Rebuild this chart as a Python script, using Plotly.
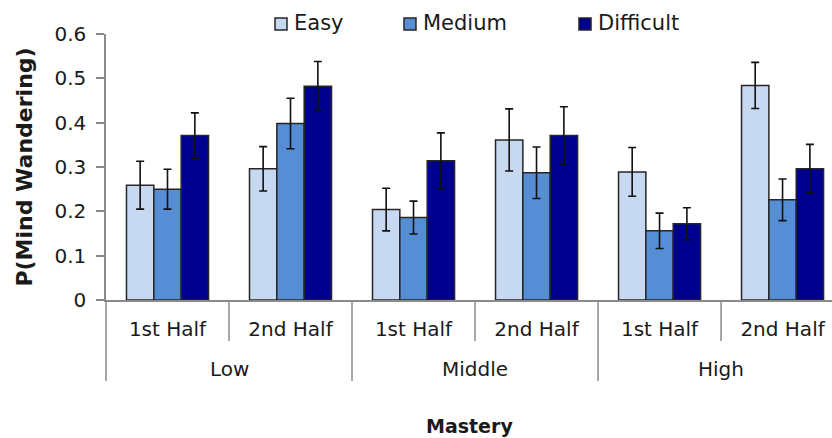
import plotly.graph_objects as go

# Mastery groups, each split into two halves
mastery = ["Low", "Middle", "High"]
half_labels = ["1st Half", "2nd Half", "1st Half", "2nd Half", "1st Half", "2nd Half"]

# Proportion of mind wandering by difficulty, one value per (mastery, half)
easy = [0.259, 0.296, 0.204, 0.361, 0.289, 0.484]
medium = [0.250, 0.398, 0.186, 0.287, 0.156, 0.226]
difficult = [0.371, 0.482, 0.314, 0.371, 0.172, 0.296]

# Standard errors
easy_err = [0.054, 0.050, 0.048, 0.070, 0.055, 0.052]
medium_err = [0.045, 0.057, 0.037, 0.058, 0.040, 0.047]
difficult_err = [0.051, 0.056, 0.063, 0.065, 0.036, 0.055]

y_ticks = [0, 0.1, 0.2, 0.3, 0.4, 0.5, 0.6]
y_tick_text = ["0", "0.1", "0.2", "0.3", "0.4", "0.5", "0.6"]

FONT = "DejaVu Sans"
TEXT = "#1a1a1a"
AXIS = "#8a8a8a"
EDGE = "#262626"

W, H = 832, 438
L, R, T, B = 106, 0, 34, 138
PW, PH = W - L - R, H - T - B


def pxx(px):
    """Pixel column -> paper x."""
    return (px - L) / PW


def pxy(py):
    """Pixel row -> paper y."""
    return (H - B - py) / PH


x = list(range(len(half_labels)))

series = [
    ("Easy", easy, easy_err, "#C6D9F1", 275),
    ("Medium", medium, medium_err, "#558ED5", 404),
    ("Difficult", difficult, difficult_err, "#000090", 579),
]

fig = go.Figure()
shapes = []
annotations = []

for name, vals, errs, color, lx in series:
    fig.add_trace(go.Bar(
        name=name,
        x=x,
        y=vals,
        marker=dict(color=color, line=dict(color=EDGE, width=1.5)),
        error_y=dict(type="data", array=errs, visible=True,
                     color="#111111", thickness=1.6, width=4),
        showlegend=False,
    ))
    # legend key: small outlined square followed by the series name
    shapes.append(dict(type="rect", xref="paper", yref="paper",
                       x0=pxx(lx), x1=pxx(lx + 12), y0=pxy(30), y1=pxy(18),
                       fillcolor=color, line=dict(color=EDGE, width=1.5)))
    annotations.append(dict(text=name, xref="paper", yref="paper",
                            x=pxx(lx + 17), y=pxy(23), xanchor="left", yanchor="middle",
                            showarrow=False,
                            font=dict(family=FONT, size=21, color=TEXT)))

# short dividers between halves inside each mastery group
for i in range(len(mastery)):
    shapes.append(dict(type="line", xref="x", yref="paper",
                       x0=2 * i + 0.5, x1=2 * i + 0.5, y0=0, y1=pxy(341),
                       line=dict(color=AXIS, width=1.5)))
# long dividers between mastery groups
for i in range(len(mastery)):
    xref = "paper" if i == 0 else "x"
    xv = 0 if i == 0 else 2 * i - 0.5
    shapes.append(dict(type="line", xref=xref, yref="paper",
                       x0=xv, x1=xv, y0=0, y1=pxy(381),
                       line=dict(color=AXIS, width=1.5)))

for i, m in enumerate(mastery):
    annotations.append(dict(text=m, x=2 * i + 0.5, xref="x", y=pxy(369), yref="paper",
                            showarrow=False, yanchor="middle",
                            font=dict(family=FONT, size=20, color=TEXT)))
annotations.append(dict(text="<b>Mastery</b>", x=0.5, xref="paper", y=pxy(426), yref="paper",
                        showarrow=False, yanchor="middle",
                        font=dict(family=FONT, size=19, color=TEXT)))

fig.update_layout(
    width=W, height=H,
    margin=dict(l=L, r=R, t=T, b=B),
    paper_bgcolor="white", plot_bgcolor="white",
    barmode="group", bargap=0.333, bargroupgap=0,
    font=dict(family=FONT, color=TEXT),
    showlegend=False,
    shapes=shapes,
    annotations=annotations,
    xaxis=dict(
        range=[-0.5, 5.402],
        tickmode="array", tickvals=x, ticktext=half_labels,
        ticks="", showline=True, linecolor=AXIS, linewidth=1.5,
        showgrid=False, zeroline=False,
        tickfont=dict(family=FONT, size=20, color=TEXT),
        ticklabelstandoff=10,
    ),
    yaxis=dict(
        range=[0, 0.6],
        tickmode="array", tickvals=y_ticks, ticktext=y_tick_text,
        ticks="outside", ticklen=8, tickcolor=AXIS, tickwidth=1.5,
        showline=True, linecolor=AXIS, linewidth=1.5,
        showgrid=False, zeroline=False,
        tickfont=dict(family=FONT, size=20, color=TEXT),
        ticklabelstandoff=6,
        title=dict(text="<b>P(Mind Wandering)</b>", standoff=16,
                   font=dict(family=FONT, size=22, color=TEXT)),
    ),
)

fig.write_html("out.html")
